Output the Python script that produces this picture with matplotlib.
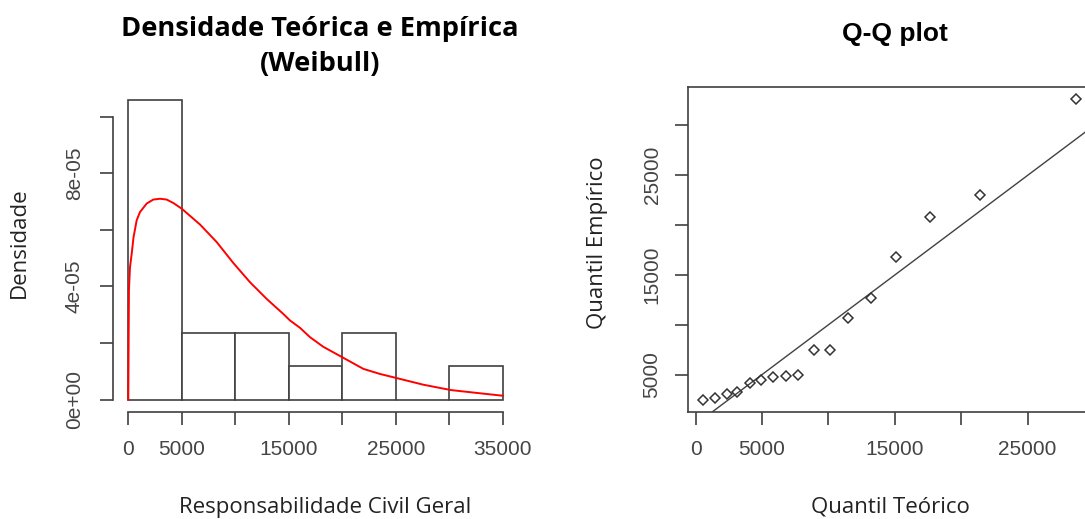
import matplotlib
matplotlib.use("Agg")
import matplotlib.pyplot as plt
import numpy as np

empirico = [2483, 2651, 3087, 3221, 4161, 4497, 4732, 4832, 4950, 7483, 7483,
            10705, 12651, 16812, 20772, 23054, 32685]
teorico = [573, 1495, 2392, 3115, 4062, 4959, 5856, 6778, 7725, 8946, 10092,
           11488, 13182, 15101, 17643, 21380, 28657]

# densidade weibull (curva vermelha)
curva_x = [0, 60, 160, 320, 495, 785, 1095, 1720, 2335, 2965, 3590, 4205, 4990,
           6700, 8260, 9815, 11375, 12935, 14485, 15110, 16045, 16980, 18220,
           20000, 21965, 23520, 25020, 27570, 30160, 32560, 35000]
curva_y = [0, 3.86e-5, 4.68e-5, 5.16e-5, 5.75e-5, 6.34e-5, 6.63e-5, 6.93e-5,
           7.07e-5, 7.10e-5, 7.07e-5, 6.95e-5, 6.75e-5, 6.19e-5, 5.57e-5,
           4.83e-5, 4.15e-5, 3.56e-5, 3.03e-5, 2.80e-5, 2.54e-5, 2.21e-5,
           1.87e-5, 1.50e-5, 1.09e-5, 0.91e-5, 0.77e-5, 0.53e-5, 0.34e-5,
           0.24e-5, 0.14e-5]

bins = [0, 5000, 10000, 15000, 20000, 25000, 30000, 35000]
hist_xticks = [0, 5000, 10000, 15000, 20000, 25000, 30000, 35000]
hist_xlabels = ['0', '5000', '', '15000', '', '25000', '', '35000']
hist_yticks = [0, 2e-5, 4e-5, 6e-5, 8e-5, 1e-4]
hist_ylabels = ['0e+00', '', '4e-05', '', '8e-05', '']
qq_xticks = [0, 5000, 10000, 15000, 20000, 25000, 30000]
qq_xlabels = ['0', '5000', '', '15000', '', '25000', '']
qq_yticks = [5000, 10000, 15000, 20000, 25000, 30000]
qq_ylabels = ['5000', '', '15000', '', '25000', '']

W, H = 1085, 519
linha = '#404040'
texto = '#444444'
tick_font = 'Liberation Sans'
label_font = ['Open Sans', 'DejaVu Sans']

def fx(px):
    return px / W

def fy(py):
    return 1 - py / H

fig = plt.figure(figsize=(W / 100, H / 100), dpi=100)
fig.patch.set_facecolor('white')

# ---- histograma + densidade ----
ax1 = fig.add_axes([fx(113.3), fy(411.7), fx(517.8) - fx(113.3), fy(88) - fy(411.7)])
n, _, _ = ax1.hist(empirico, bins=bins, density=True, facecolor='white',
                   edgecolor=linha, linewidth=1.2)
ax1.plot(curva_x, curva_y, color='red', lw=1.4, solid_joinstyle='round')
ymax = max(n)
ax1.set_xlim(-0.04 * 35000, 1.04 * 35000)
ax1.set_ylim(-0.04 * ymax, 1.04 * ymax)
for s in ['top', 'right']:
    ax1.spines[s].set_visible(False)
ax1.spines['bottom'].set_bounds(0, 35000)
ax1.spines['left'].set_bounds(0, 1e-4)
ax1.set_xticks(hist_xticks)
ax1.set_xticklabels(hist_xlabels)
ax1.set_yticks(hist_yticks)
ax1.set_yticklabels(hist_ylabels)

# ---- Q-Q plot ----
ax2 = fig.add_axes([fx(688.3), fy(411.7), fx(1094.1) - fx(688.3), fy(86.7) - fy(411.7)])
ax2.axline((0, 0), slope=1, color=linha, lw=1.0)
ax2.plot(teorico, empirico, linestyle='none', marker='D', markersize=4.6,
         markerfacecolor='none', markeredgecolor='#333333', markeredgewidth=1.1)
rx = max(teorico) - min(teorico)
ry = max(empirico) - min(empirico)
ax2.set_xlim(min(teorico) - 0.04 * rx, max(teorico) + 0.04 * rx)
ax2.set_ylim(min(empirico) - 0.04 * ry, max(empirico) + 0.04 * ry)
ax2.set_xticks(qq_xticks)
ax2.set_xticklabels(qq_xlabels)
ax2.set_yticks(qq_yticks)
ax2.set_yticklabels(qq_ylabels)

for ax, ypad in [(ax1, 11.5), (ax2, 9.6)]:
    for s in ax.spines.values():
        s.set_color(linha)
        s.set_linewidth(1.2)
    ax.tick_params(axis='both', length=9.6, width=1.2, color=linha,
                   labelsize=15, labelcolor=texto)
    ax.tick_params(axis='x', pad=11)
    ax.tick_params(axis='y', pad=ypad, labelrotation=90)
    for lab in ax.get_xticklabels() + ax.get_yticklabels():
        lab.set_fontfamily(tick_font)
    for lab in ax.get_yticklabels():
        lab.set_va('center')

# titulos e rotulos
fig.text(fx(320), fy(29), 'Densidade Teórica e Empírica', ha='center', va='center',
         fontsize=19.6, fontweight='bold', family=label_font, color='black')
fig.text(fx(320), fy(64), '(Weibull)', ha='center', va='center',
         fontsize=19.6, fontweight='bold', family=label_font, color='black')
fig.text(fx(895), fy(34), 'Q-Q plot', ha='center', va='center',
         fontsize=19, fontweight='bold', family='Liberation Sans', color='black')

fig.text(fx(325), fy(513), 'Responsabilidade Civil Geral', ha='center', va='baseline',
         fontsize=16, family=label_font, color='#222222')
fig.text(fx(890), fy(513), 'Quantil Teórico', ha='center', va='baseline',
         fontsize=16, family=label_font, color='#222222')
fig.text(fx(19), fy(243), 'Densidade', ha='center', va='center', rotation=90,
         fontsize=16, family=label_font, color='#222222')
fig.text(fx(597), fy(243), 'Quantil Empírico', ha='center', va='center', rotation=90,
         fontsize=16, family=label_font, color='#222222')

fig.savefig('out.png', dpi=100)
